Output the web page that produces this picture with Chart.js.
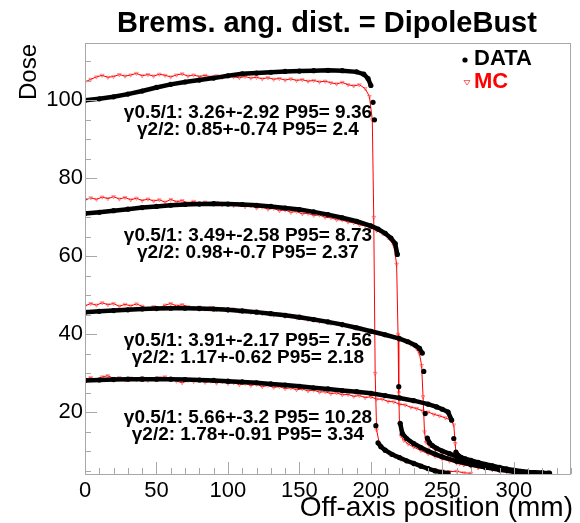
<!DOCTYPE html>
<html>
<head>
<meta charset="utf-8">
<script src="https://cdn.jsdelivr.net/npm/chart.js@4.4.1/dist/chart.umd.min.js"></script>
<style>
  html, body { margin: 0; padding: 0; background: #fff; }
  canvas { display: block; }
</style>
</head>
<body>
<canvas id="doseChart" width="580" height="523"></canvas>
<script>
// off-axis dose profiles, x in mm, four field sizes
const data1X = [0,10,20,30,40,50,60,70,80,90,100,110,120,130,140,150,160,170,180,190,195,198,200,201.5,202.5,203.5,205,207,210,215,220,225,230,235,240,245,250,254];
const data1Y = [100.0,100.4,100.9,101.6,102.4,103.3,104.1,104.7,105.2,105.7,106.3,106.8,107.0,107.2,107.4,107.5,107.6,107.7,107.6,107.3,106.7,105.6,103.8,99.5,95.0,16.6,12.2,11.2,10.3,9.2,8.4,7.6,6.9,6.2,5.6,5.0,4.6,4.4];
const data2X = [0,10,20,30,40,50,60,70,80,90,100,110,120,130,140,150,160,170,180,190,200,205,210,214,217,218.5,219.5,220.5,222,225,230,235,240,245,250,260,270,280,290,300,310,320];
const data2Y = [71.0,71.3,71.7,72.1,72.5,72.8,73.1,73.3,73.4,73.5,73.4,73.3,73.1,72.8,72.4,72.0,71.4,70.7,69.9,69.0,67.8,67.0,65.9,64.7,63.3,60.5,26.6,17.2,14.6,13.3,12.0,11.0,10.1,9.3,8.6,7.5,6.6,5.9,5.3,4.8,4.5,4.4];
const data3X = [0,10,20,30,40,50,60,70,80,90,100,110,120,130,140,150,160,170,180,190,200,210,220,226,231,234,236,237,238,239.5,241,243,246,250,255,260,270,280,290,300,310,320,324];
const data3Y = [45.7,45.9,46.1,46.3,46.5,46.6,46.7,46.7,46.6,46.5,46.3,46.0,45.7,45.3,44.9,44.4,43.8,43.2,42.5,41.7,40.8,39.9,38.9,38.1,37.2,36.4,35.2,30.5,19.7,13.4,12.2,11.5,10.8,10.1,9.4,8.7,7.4,6.5,5.7,5.1,4.7,4.5,4.4];
const data4X = [0,10,20,30,40,50,60,70,80,90,100,110,120,130,140,150,160,170,180,190,200,210,220,230,240,246,250,254,256.5,258,259.5,261,263,266,270,275,280,285,290,295,300,305,310,315,320,325];
const data4Y = [28.2,28.3,28.4,28.5,28.5,28.5,28.5,28.4,28.3,28.2,28.0,27.8,27.6,27.3,27.0,26.7,26.3,26.0,25.6,25.3,24.9,24.3,23.7,23.0,22.1,21.4,20.8,20.1,18.0,13.3,9.8,9.0,8.5,8.1,7.7,7.2,6.7,6.3,5.9,5.5,5.2,4.9,4.6,4.5,4.4,4.4];

const mc1X = [0,4,8,12,16,20,24,28,32,36,40,44,48,52,56,60,64,68,72,76,80,84,88,92,96,100,104,108,112,116,120,124,128,132,136,140,144,148,152,156,160,164,168,172,176,180,184,188,192,196,199,201,202,203,204,206,209,213,217,221,225,230,235,240,245,250,255,260,265,270];
const mc1Y = [104.7,105.4,106.0,106.4,105.9,106.1,106.6,106.2,106.5,106.9,106.3,106.6,106.2,106.7,106.4,106.0,106.5,106.8,106.2,106.5,106.1,106.4,106.0,106.3,105.9,106.2,106.0,105.8,106.1,105.7,105.9,105.5,105.8,105.4,105.6,105.2,105.5,105.1,105.3,104.9,105.1,104.7,104.9,104.5,104.2,104.6,104.0,103.7,104.0,103.0,101.0,95.0,70.0,30.0,15.5,11.8,10.3,9.3,8.6,8.0,7.3,6.6,6.2,5.6,5.3,5.0,4.8,4.9,4.5,4.4];
const mc2X = [0,4,8,12,16,20,24,28,32,36,40,44,48,52,56,60,64,68,72,76,80,84,88,92,96,100,104,108,112,116,120,124,128,132,136,140,144,148,152,156,160,164,168,172,176,180,184,188,192,196,200,204,208,212,216,218,219,219.5,220,221,223,226,230,235,240,245,250,255,260,265,270,275,280,285,290,295,300,305,308];
const mc2Y = [74.4,75.0,74.6,75.2,74.8,75.3,74.7,75.1,74.5,74.9,74.3,74.7,74.2,74.5,73.9,74.6,74.0,74.3,73.7,74.1,73.6,73.9,73.4,73.8,73.2,73.5,73.0,73.2,72.7,73.0,72.4,72.6,72.1,72.3,71.7,71.9,71.3,71.5,70.9,71.0,70.5,70.6,70.0,69.9,69.4,69.3,68.8,68.6,68.1,67.8,67.3,66.6,65.9,64.8,62.8,58.0,40.0,25.0,17.0,14.0,12.8,11.9,11.1,10.2,9.4,8.7,8.0,7.5,7.0,6.6,6.2,5.8,5.6,5.3,5.0,4.9,4.7,4.5,4.4];
const mc3X = [0,4,8,12,16,20,24,28,32,36,40,44,48,52,56,60,64,68,72,76,80,84,88,92,96,100,104,108,112,116,120,124,128,132,136,140,144,148,152,156,160,164,168,172,176,180,184,188,192,196,200,204,208,212,216,220,224,228,232,234,235.5,236.5,237.5,238.5,241,245,250,255,260,265,270,275,280,285,290,295,300,305,309];
const mc3Y = [47.3,47.9,47.5,48.1,47.6,47.9,47.2,47.7,47.3,47.8,47.2,46.6,47.1,46.8,47.5,47.9,47.3,47.6,47.1,46.6,47.0,46.5,46.9,46.3,46.6,46.1,46.5,45.9,46.2,45.6,45.9,45.3,45.5,44.9,45.2,44.6,44.8,44.2,44.4,43.8,43.9,43.3,43.4,42.8,42.9,42.3,42.3,41.7,41.7,41.1,41.0,40.4,40.2,39.6,39.3,38.7,38.2,37.4,36.3,35.0,32.0,24.0,15.0,12.3,11.3,10.4,9.6,8.9,8.2,7.6,7.1,6.6,6.2,5.8,5.5,5.2,4.9,4.6,4.4];
const mc4X = [0,4,8,12,16,20,24,28,32,36,40,44,48,52,56,60,64,68,72,76,80,84,88,92,96,100,104,108,112,116,120,124,128,132,136,140,144,148,152,156,160,164,168,172,176,180,184,188,192,196,200,204,208,212,216,220,224,228,232,236,240,244,248,252,256,258,259,260,262,265,270,275,280,285,290,295,300,305,309];
const mc4Y = [28.5,28.9,28.4,29.1,29.4,28.7,28.9,28.3,28.8,28.4,28.9,28.2,28.6,28.9,29.1,28.5,28.0,27.6,28.2,27.9,28.3,27.7,28.0,27.5,27.9,27.4,27.6,27.1,27.4,26.9,27.2,26.6,26.9,26.4,26.6,26.1,26.3,25.8,26.0,25.5,25.7,25.2,25.3,24.8,25.0,24.5,24.6,24.1,24.3,23.8,24.0,23.4,23.4,22.8,22.7,22.1,21.9,21.3,21.0,20.4,20.1,19.5,19.1,18.6,18.0,16.8,12.0,7.2,6.8,6.6,6.3,6.0,5.7,5.4,5.1,4.9,4.7,4.5,4.4];

const xTicks = [0, 50, 100, 150, 200, 250, 300];
const yTicks = [20, 40, 60, 80, 100];

// gamma index results, one pair of lines per field
const gammaText = [
    ['\u03b30.5/1: 3.26+-2.92 P95= 9.36', '\u03b32/2: 0.85+-0.74 P95= 2.4'],
    ['\u03b30.5/1: 3.49+-2.58 P95= 8.73', '\u03b32/2: 0.98+-0.7 P95= 2.37'],
    ['\u03b30.5/1: 3.91+-2.17 P95= 7.56', '\u03b32/2: 1.17+-0.62 P95= 2.18'],
    ['\u03b30.5/1: 5.66+-3.2 P95= 10.28', '\u03b32/2: 1.78+-0.91 P95= 3.34']
];
const gammaAt = [96.8, 65.2, 38.3, 18.7];

const FONT = "'Liberation Sans', Arial, Helvetica, sans-serif";

const pts = (xs, ys) => xs.map((x, i) => ({ x: x, y: ys[i] }));

const dataSet = (xs, ys) => ({
    label: 'DATA',
    data: pts(xs, ys),
    order: 0,
    borderColor: '#000',
    borderWidth: 4.5,
    pointRadius: 2.6,
    pointBackgroundColor: '#000',
    pointBorderWidth: 0,
    tension: 0,
    segment: {
        borderColor: ctx => Math.abs(ctx.p1.parsed.y - ctx.p0.parsed.y) > 3 ? 'rgba(0,0,0,0)' : '#000'
    }
});

const mcSet = (xs, ys) => ({
    label: 'MC',
    data: pts(xs, ys),
    order: 1,
    borderColor: '#ff0000',
    borderWidth: 1,
    pointStyle: 'triangle',
    rotation: 180,
    pointRadius: 2.2,
    pointBorderColor: 'rgba(255,0,0,0.45)',
    pointBackgroundColor: 'rgba(255,120,120,0.2)',
    pointBorderWidth: 0.8,
    tension: 0
});

// frame, inward ticks, titles, legend and gamma labels
const rootStyle = {
    id: 'rootStyle',
    afterDatasetsDraw(chart) {
        const c = chart.ctx;
        const a = chart.chartArea;
        const xs = chart.scales.x, ys = chart.scales.y;
        c.save();
        c.strokeStyle = '#a8a8a8';
        c.lineWidth = 1;
        c.strokeRect(a.left + 0.5, a.top + 0.5, a.right - a.left - 1, a.bottom - a.top);

        c.beginPath();
        for (let v = 0; v <= 340; v += 10) {
            const px = Math.round(xs.getPixelForValue(v)) + 0.5;
            const len = v % 50 === 0 ? 12 : 6;
            c.moveTo(px, a.bottom);
            c.lineTo(px, a.bottom - len);
        }
        for (let v = 5; v <= 114; v += 5) {
            const py = Math.round(ys.getPixelForValue(v)) + 0.5;
            const len = v % 20 === 0 ? 12 : 6;
            c.moveTo(a.left, py);
            c.lineTo(a.left + len, py);
        }
        c.stroke();

        c.fillStyle = '#000';
        c.textBaseline = 'middle';
        c.textAlign = 'center';
        c.font = 'bold 29px ' + FONT;
        c.fillText('Brems. ang. dist. = DipoleBust', 327, 24);

        c.textAlign = 'right';
        c.font = '28px ' + FONT;
        c.fillText('Off-axis position (mm)', 573, 508);

        c.save();
        c.translate(29, 44);
        c.rotate(-Math.PI / 2);
        c.font = '24px ' + FONT;
        c.fillText('Dose', 0, 0);
        c.restore();

        // legend
        c.beginPath();
        c.arc(465, 60, 2.6, 0, Math.PI * 2);
        c.fill();
        c.textAlign = 'left';
        c.font = 'bold 22px ' + FONT;
        c.fillText('DATA', 474, 59);
        c.strokeStyle = 'rgba(255,0,0,0.6)';
        c.beginPath();
        c.moveTo(464, 80.5);
        c.lineTo(470, 80.5);
        c.lineTo(467, 85);
        c.closePath();
        c.stroke();
        c.fillStyle = '#ff0000';
        c.fillText('MC', 474, 82);

        c.fillStyle = '#000';
        c.textAlign = 'center';
        c.font = 'bold 19px ' + FONT;
        const cx = xs.getPixelForValue(114);
        gammaText.forEach((lines, i) => {
            const y0 = ys.getPixelForValue(gammaAt[i]);
            c.fillText(lines[0], cx, y0);
            c.fillText(lines[1], cx, y0 + 17);
        });
        c.restore();
    }
};

new Chart(document.getElementById('doseChart'), {
    type: 'line',
    data: {
        datasets: [
            mcSet(mc1X, mc1Y), mcSet(mc2X, mc2Y), mcSet(mc3X, mc3Y), mcSet(mc4X, mc4Y),
            dataSet(data1X, data1Y), dataSet(data2X, data2Y), dataSet(data3X, data3Y), dataSet(data4X, data4Y)
        ]
    },
    options: {
        responsive: false,
        animation: false,
        layout: { padding: { top: 43, right: 9, left: 0, bottom: 0 } },
        scales: {
            x: {
                type: 'linear',
                min: 0,
                max: 340,
                grid: { display: false, drawTicks: false },
                border: { display: false },
                afterBuildTicks: s => { s.ticks = xTicks.map(v => ({ value: v })); },
                ticks: { color: '#000', font: { family: FONT, size: 22 }, padding: 4, maxRotation: 0 },
                afterFit: s => { s.height = 49; }
            },
            y: {
                type: 'linear',
                min: 4.2,
                max: 114.7,
                grid: { display: false, drawTicks: false },
                border: { display: false },
                afterBuildTicks: s => { s.ticks = yTicks.map(v => ({ value: v })); },
                ticks: { color: '#000', font: { family: FONT, size: 22 }, padding: 2 },
                afterFit: s => { s.width = 85; }
            }
        },
        plugins: {
            legend: { display: false },
            title: { display: false },
            tooltip: { enabled: false }
        }
    },
    plugins: [rootStyle]
});
</script>
</body>
</html>
